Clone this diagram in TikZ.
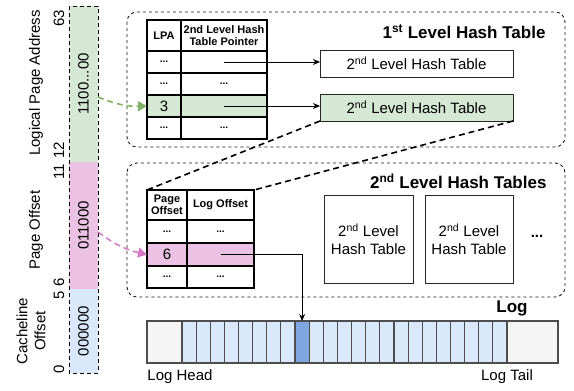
\documentclass[tikz,border=0pt]{standalone}
\usepackage{fontspec}
\setmainfont{Liberation Sans}
\usepackage{xcolor}
\usetikzlibrary{arrows.meta, positioning}

\definecolor{lpagreen}{HTML}{D5E8D4}
\definecolor{lpaarrow}{HTML}{82B366}
\definecolor{offpink}{HTML}{EBC2E3}
\definecolor{offarrow}{HTML}{D67AC6}
\definecolor{clblue}{HTML}{DAE8FC}
\definecolor{logdark}{HTML}{7EA6E0}
\definecolor{loggray}{HTML}{F5F5F5}
\definecolor{logedge}{HTML}{4D4D4D}

\begin{document}
\begin{tikzpicture}[
    x=1pt, y=-1pt,
    font=\fontsize{15}{18}\selectfont,
    bits/.style={rotate=90, minimum height=29, inner sep=0, outer sep=0},
    bitlbl/.style={rotate=90, inner sep=1pt, align=center},
    group/.style={draw=black!90, dash pattern=on 3pt off 3pt, line width=0.9pt, rounded corners=10pt},
    cell/.style={draw=black, line width=1.1pt, inner sep=0, outer sep=0, anchor=north west, align=center},
    hdr/.style={font=\fontsize{11}{12.5}\selectfont\bfseries},
    dots/.style={font=\fontsize{10}{12}\selectfont\bfseries},
    tbl/.style={draw=black!85, line width=1pt, fill=white, inner sep=0, outer sep=0, anchor=north west, align=center},
    ptr/.style={line width=0.9pt, -{Stealth[length=7pt, width=6pt]}},
    zoomline/.style={line width=1.6pt, dash pattern=on 6pt off 4pt},
    logcell/.style={draw=logedge, line width=1.1pt, inner sep=0, outer sep=0, anchor=north west, minimum height=42},
    title/.style={font=\fontsize{17}{20}\selectfont\bfseries}
]
    \useasboundingbox (0,0) rectangle (574,391);

    % Address bit field
    \node (lpabits) [bits, fill=lpagreen, minimum width=156] at (83.5,84) {1100...00};
    \node (offbits) [bits, fill=offpink, minimum width=127] at (83.5,225.5) {011000};
    \node (clbits) [bits, fill=clblue, minimum width=84] at (83.5,331) {000000};
    \draw [dash pattern=on 4pt off 3pt, line width=1pt] (69,6) rectangle (98,373);

    \node (lpa_lbl) [bitlbl] at (36,83) {Logical Page Address};
    \node (off_lbl) [bitlbl] at (36,230) {Page Offset};
    \node (cl_lbl) [bitlbl] at (31,331) {Cacheline\\Offset};
    \node (b63) [bitlbl] at (59,18) {63};
    \node (b12) [bitlbl] at (59,150) {12};
    \node (b11) [bitlbl] at (59,172) {11};
    \node (b6) [bitlbl] at (59,282) {6};
    \node (b5) [bitlbl] at (59,295) {5};
    \node (b0) [bitlbl] at (59,369) {0};

    \coordinate (lpaout) at (98,97);
    \coordinate (offout) at (98,232);

    % 1st level hash table
    \draw [group] (127,12) rectangle (565,147);
    \node (l1_title) [title, anchor=east] at (549,32) {1\textsuperscript{st} Level Hash Table};

    \node (t1h1) [cell, minimum width=34, minimum height=31, hdr] at (147,20) {LPA};
    \node (t1h2) [cell, minimum width=86, minimum height=31, hdr, right=0pt of t1h1] {2nd Level Hash\\Table Pointer};
    \node (t1r1a) [cell, minimum width=34, minimum height=22, dots, below=0pt of t1h1] {...};
    \node (t1r1b) [cell, minimum width=86, minimum height=22, below=0pt of t1h2] {};
    \node (t1r2a) [cell, minimum width=34, minimum height=22, dots, below=0pt of t1r1a] {...};
    \node (t1r2b) [cell, minimum width=86, minimum height=22, dots, below=0pt of t1r1b] {...};
    \node (t1r3a) [cell, minimum width=34, minimum height=22, fill=lpagreen, below=0pt of t1r2a] {3};
    \node (t1r3b) [cell, minimum width=86, minimum height=22, fill=lpagreen, below=0pt of t1r2b] {};
    \node (t1r4a) [cell, minimum width=34, minimum height=22, dots, below=0pt of t1r3a] {...};
    \node (t1r4b) [cell, minimum width=86, minimum height=22, dots, below=0pt of t1r3b] {...};

    \node (l2a) [tbl, minimum width=193, minimum height=27] at (320,50) {2\textsuperscript{nd} Level Hash Table};
    \node (l2b) [tbl, minimum width=193, minimum height=27, fill=lpagreen] at (320,94) {2\textsuperscript{nd} Level Hash Table};

    \draw [ptr] (t1r1b.center) -- (t1r1b.center -| l2a.west);
    \draw [ptr] (t1r3b.center) -- (t1r3b.center -| l2b.west);

    % 2nd level hash tables
    \draw [group] (127,163) rectangle (565,297);
    \node (l2_title) [title, anchor=east] at (550,181) {2\textsuperscript{nd} Level Hash Tables};

    \node (t2h1) [cell, minimum width=40, minimum height=30, hdr] at (147,190) {Page\\Offset};
    \node (t2h2) [cell, minimum width=67, minimum height=30, hdr, right=0pt of t2h1] {Log Offset};
    \node (t2r1a) [cell, minimum width=40, minimum height=23, dots, below=0pt of t2h1] {...};
    \node (t2r1b) [cell, minimum width=67, minimum height=23, dots, below=0pt of t2h2] {...};
    \node (t2r2a) [cell, minimum width=40, minimum height=23, fill=offpink, below=0pt of t2r1a] {6};
    \node (t2r2b) [cell, minimum width=67, minimum height=23, fill=offpink, below=0pt of t2r1b] {};
    \node (t2r3a) [cell, minimum width=40, minimum height=22, dots, below=0pt of t2r2a] {...};
    \node (t2r3b) [cell, minimum width=67, minimum height=22, dots, below=0pt of t2r2b] {...};

    \node (l3a) [tbl, minimum width=89, minimum height=88] at (324,195) {2\textsuperscript{nd} Level\\Hash Table};
    \node (l3b) [tbl, minimum width=88, minimum height=88] at (425,195) {2\textsuperscript{nd} Level\\Hash Table};
    \node (l3more) [font=\fontsize{15}{18}\selectfont\bfseries] at (537,236) {...};

    \draw [zoomline] (l2b.south west) -- (t2h1.north west);
    \draw [zoomline] (l2b.south east) -- (t2h2.north east);

    % Log
    \node (log_title) [title] at (512,308) {Log};
    \node (loghead) [logcell, fill=loggray, minimum width=35] at (147,321) {};
    \node (logtail) [logcell, fill=loggray, minimum width=51] at (507,321) {};
    \foreach \i in {0,...,22} {
        \ifnum\i=8 \def\cellfill{logdark}\else\def\cellfill{clblue}\fi
        \node (logc\i) [logcell, fill=\cellfill, minimum width=14.13] at (182+\i*14.13,321) {};
    }
    \node (head_lbl) at (180,377) {Log Head};
    \node (tail_lbl) at (507,377) {Log Tail};

    \draw [ptr] (t2r2b.center) -| (logc8.north);

    % Bit field to table rows
    \draw [lpaarrow, zoomline, -{Triangle[length=9pt, width=10pt]}] (lpaout) to [bend right=12] (t1r3a.west);
    \draw [offarrow, zoomline, -{Triangle[length=9pt, width=10pt]}] (offout) to [bend right=12] (t2r2a.west);
\end{tikzpicture}
\end{document}
